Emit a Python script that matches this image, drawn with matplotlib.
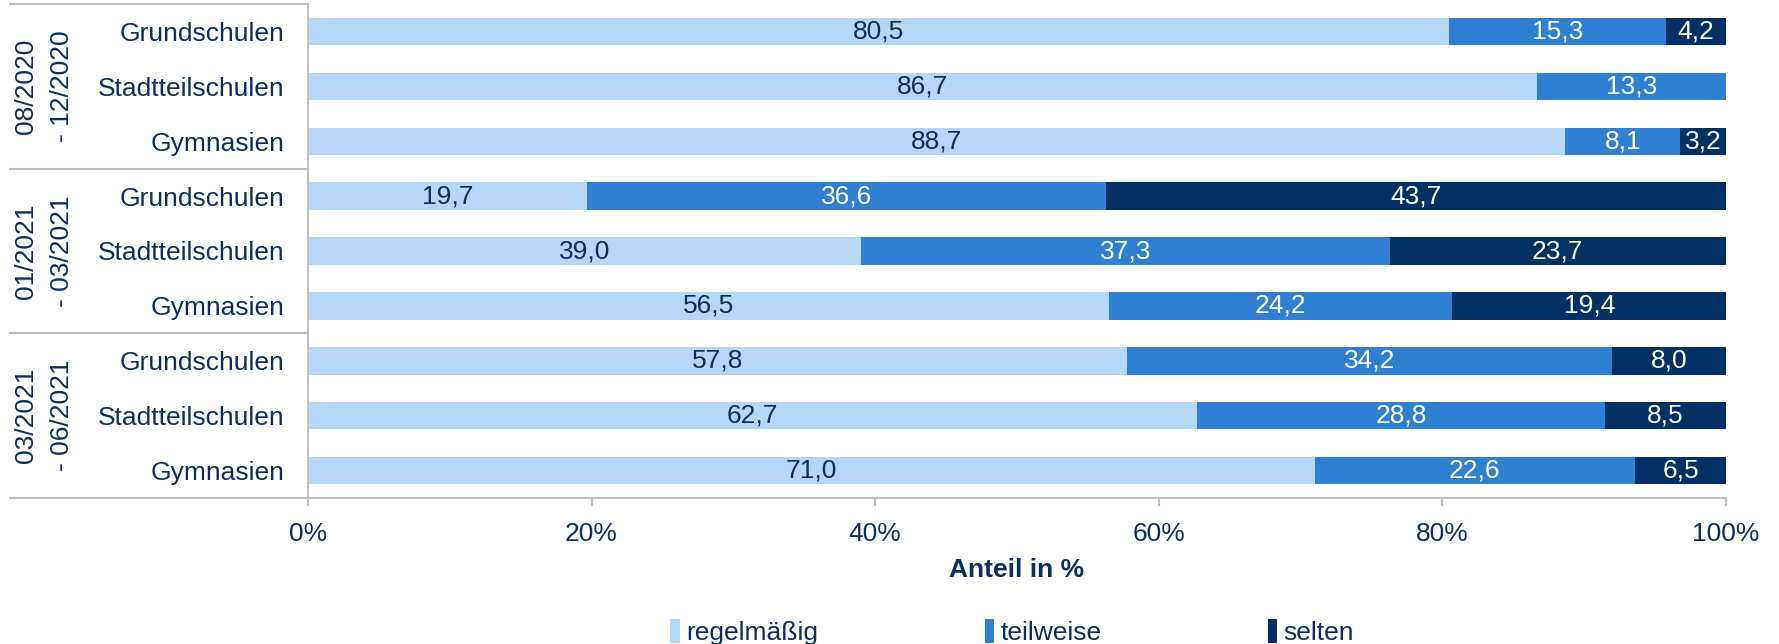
import matplotlib
matplotlib.use('Agg')
import matplotlib.pyplot as plt
import matplotlib.transforms as mtransforms
from matplotlib.lines import Line2D
import numpy as np

plt.rcParams['font.family'] = ['Liberation Sans', 'DejaVu Sans']

periods = ['08/2020\n- 12/2020', '01/2021\n- 03/2021', '03/2021\n- 06/2021']
schools = ['Grundschulen', 'Stadtteilschulen', 'Gymnasien']
regelmaessig = [80.5, 86.7, 88.7, 19.7, 39.0, 56.5, 57.8, 62.7, 71.0]
teilweise = [15.3, 13.3, 8.1, 36.6, 37.3, 24.2, 34.2, 28.8, 22.6]
selten = [4.2, 0.0, 3.2, 43.7, 23.7, 19.4, 8.0, 8.5, 6.5]
series_names = ['regelmäßig', 'teilweise', 'selten']
colors = ['#B5D8F8', '#2F80D2', '#003064']
label_colors = ['#0E2F5E', 'white', 'white']
text_col = '#0E2F5E'
grey = '#BFBFBF'

fig = plt.figure(figsize=(17.79, 6.44), dpi=100)
ax = fig.add_axes([308 / 1779, 1 - 498 / 644, (1725.7 - 308) / 1779, 494 / 644])

y = np.arange(len(regelmaessig))
left = np.zeros(len(y))
for vals, name, c, lc in zip([regelmaessig, teilweise, selten], series_names, colors, label_colors):
    v = np.array(vals) / 100.0
    ax.barh(y, v, left=left, height=0.5, color=c, label=name)
    for yi, (l, w, raw) in enumerate(zip(left, v, vals)):
        if raw > 0:
            ax.text(l + w / 2, yi, '{:.1f}'.format(raw).replace('.', ','),
                    ha='center', va='center', color=lc, fontsize=19)
    left = left + v

ax.set_xlim(0, 1)
ax.set_ylim(8.5, -0.5)
ax.set_yticks(y)
ax.set_yticklabels(schools * 3, fontsize=19, color=text_col)
ax.set_xticks([0, 0.2, 0.4, 0.6, 0.8, 1.0])
ax.set_xticklabels(['0%', '20%', '40%', '60%', '80%', '100%'], fontsize=19, color=text_col)
ax.tick_params(axis='y', length=0, pad=17)
ax.tick_params(axis='x', length=6, color=grey, width=1.5, pad=11)
ax.set_xlabel('Anteil in %', fontsize=19, fontweight='bold', color=text_col, labelpad=9)

for s in ['top', 'right']:
    ax.spines[s].set_visible(False)
ax.spines['left'].set_color(grey)
ax.spines['left'].set_linewidth(1.5)
ax.spines['bottom'].set_color(grey)
ax.spines['bottom'].set_linewidth(1.5)

# group separators and period labels on the left
trans = mtransforms.blended_transform_factory(fig.transFigure, ax.transData)
x0 = 10 / 1779
x1 = 308 / 1779
for yy in [-0.5, 2.5, 5.5, 8.5]:
    ax.add_line(Line2D([x0, x1], [yy, yy], transform=trans, color=grey, lw=1.5, clip_on=False))
for i, p in enumerate(periods):
    ax.text(44 / 1779, 3 * i + 1, p, transform=trans, rotation=90, ha='center', va='center',
            multialignment='center', fontsize=19, color=text_col, linespacing=1.6)

handles, labels = ax.get_legend_handles_labels()
leg = fig.legend(handles, labels, loc='center', bbox_to_anchor=(0.569, 0.018), ncol=3,
                 frameon=False, fontsize=19, handlelength=0.35, handleheight=1.0,
                 handletextpad=0.25, columnspacing=6.3)
for t in leg.get_texts():
    t.set_color(text_col)

fig.savefig('out.png', dpi=100)
